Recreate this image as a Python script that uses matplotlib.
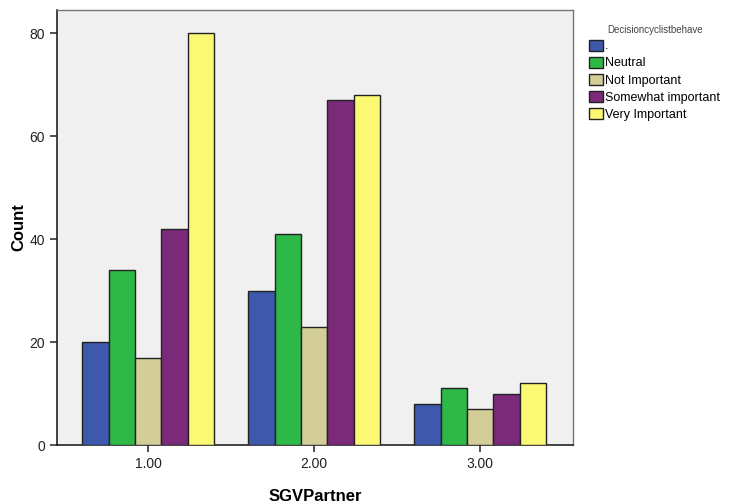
import numpy as np
import matplotlib.pyplot as plt

plt.rcParams['font.family'] = ['Liberation Sans', 'DejaVu Sans']

# Data
partners = ["1.00", "2.00", "3.00"]
responses = [".", "Neutral", "Not Important", "Somewhat important", "Very Important"]
counts_dot = [20, 30, 8]
counts_neutral = [34, 41, 11]
counts_not = [17, 23, 7]
counts_somewhat = [42, 67, 10]
counts_very = [80, 68, 12]
colors = ["#3E58AC", "#2EB848", "#D3CE97", "#7B2A79", "#FBF873"]

series = [counts_dot, counts_neutral, counts_not, counts_somewhat, counts_very]

fig = plt.figure(figsize=(7.35, 5.04), dpi=100)
ax = fig.add_axes([0.0776, 0.117, 0.702, 0.863])
ax.set_facecolor("#F0F0F0")

x = np.arange(len(partners))
width = 0.159
for i, (vals, name) in enumerate(zip(series, responses)):
    offset = (i - 2) * width
    ax.bar(x + offset, vals, width, color=colors[i], edgecolor="#222222",
           linewidth=1.0, label=name, zorder=3)

ax.set_xlim(-0.55, 2.56)
ax.set_ylim(0, 84.5)
ax.set_xticks(x)
ax.set_xticklabels(partners)
ax.set_yticks([0, 20, 40, 60, 80])
ax.tick_params(axis="both", direction="out", length=5, width=1.2,
               colors="#333333", labelsize=10, labelcolor="#222222")

for side in ["left", "bottom"]:
    ax.spines[side].set_color("#222222")
    ax.spines[side].set_linewidth(1.2)
for side in ["top", "right"]:
    ax.spines[side].set_color("#777777")
    ax.spines[side].set_linewidth(1.0)

ax.set_ylabel("Count", fontsize=12, fontweight="bold", labelpad=2)
ax.set_xlabel("SGVPartner", fontsize=12, fontweight="bold", labelpad=13)

leg = ax.legend(loc="upper left", bbox_to_anchor=(1.015, 0.985), frameon=False,
                fontsize=9, title="Decisioncyclistbehave", title_fontsize=7,
                handlelength=1.1, handleheight=0.95, handletextpad=0.15,
                labelspacing=0.35, borderaxespad=0.3)
leg.get_title().set_color("#444444")

fig.savefig("out.png", dpi=100)
